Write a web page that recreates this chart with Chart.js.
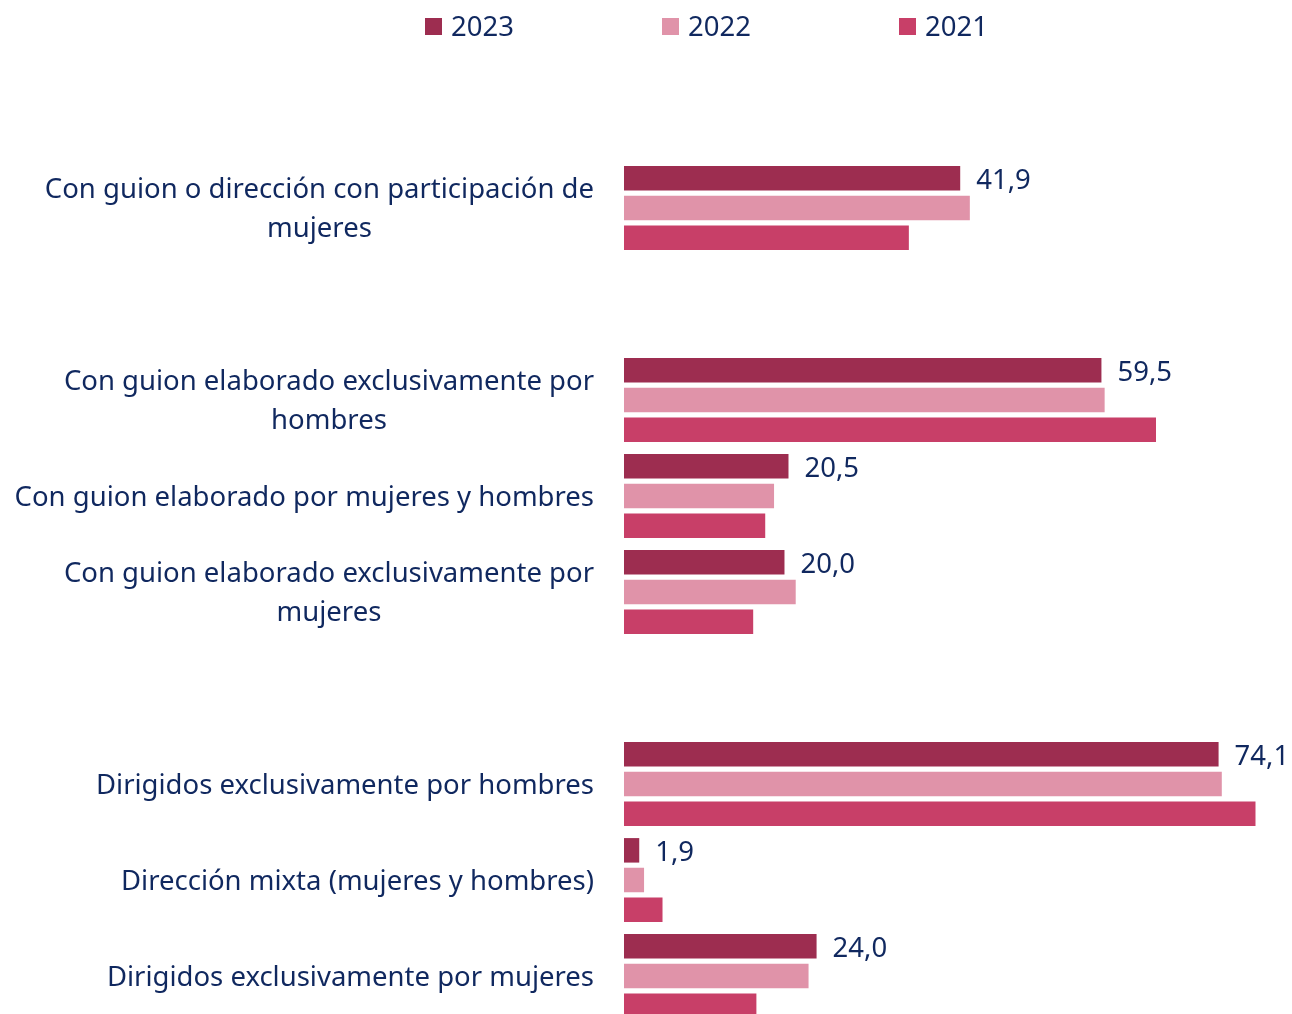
<!DOCTYPE html>
<html><head><meta charset="utf-8">
<script src="https://cdn.jsdelivr.net/npm/chart.js@4.4.1/dist/chart.umd.min.js"></script>
<style>
html,body{margin:0;padding:0;background:#fff;overflow:hidden;}
#wrap{position:relative;width:1292px;height:1014px;overflow:hidden;}
canvas{display:block;}
</style></head><body>
<div id="wrap"><canvas id="c" width="1292" height="1024"></canvas></div>
<script>
const categories = [
  "",
  ["Con guion o dirección con participación de", "mujeres"],
  "",
  ["Con guion elaborado exclusivamente por", "hombres"],
  "Con guion elaborado por mujeres y hombres",
  ["Con guion elaborado exclusivamente por", "mujeres"],
  "",
  "Dirigidos exclusivamente por hombres",
  "Dirección mixta (mujeres y hombres)",
  "Dirigidos exclusivamente por mujeres"
];
const seriesNames = ["2023", "2022", "2021"];
const values2023 = [null, 41.9, null, 59.5, 20.5, 20.0, null, 74.1, 1.9, 24.0];
const values2022 = [null, 43.1, null, 59.9, 18.7, 21.4, null, 74.5, 2.5, 23.0];
const values2021 = [null, 35.5, null, 66.3, 17.6, 16.1, null, 78.7, 4.8, 16.5];
const labelledSeries = [0];

const seriesColors = ["#9D2D50", "#E093A9", "#C83F68"];
const TEXT_COLOR = "#10285F";
const FONT_FAMILY = '"Noto Sans"';
const FONT_SIZE = 27.5;

const yLabelPlugin = {
  id: 'yLabels',
  afterDraw(chart) {
    const ctx = chart.ctx, ys = chart.scales.y;
    ctx.save();
    ctx.font = FONT_SIZE + 'px ' + FONT_FAMILY;
    ctx.fillStyle = TEXT_COLOR;
    ctx.textAlign = 'center';
    ctx.textBaseline = 'middle';
    const right = chart.chartArea.left - 30;
    const lh = 39;
    categories.forEach((lab, i) => {
      const lines = Array.isArray(lab) ? lab : [lab];
      if (!lines.join('')) return;
      const w = Math.max(...lines.map(l => ctx.measureText(l).width));
      const cx = right - w / 2;
      const cy = ys.getPixelForValue(i) + 2;
      lines.forEach((l, k) => ctx.fillText(l, cx, cy + (k - (lines.length - 1) / 2) * lh));
    });
    ctx.restore();
  }
};

const valueLabelPlugin = {
  id: 'valueLabels',
  afterDatasetsDraw(chart) {
    const ctx = chart.ctx;
    ctx.save();
    ctx.font = FONT_SIZE + 'px ' + FONT_FAMILY;
    ctx.fillStyle = TEXT_COLOR;
    ctx.textAlign = 'left';
    ctx.textBaseline = 'middle';
    labelledSeries.forEach(di => {
      const meta = chart.getDatasetMeta(di);
      const data = chart.data.datasets[di].data;
      meta.data.forEach((el, i) => {
        const v = data[i];
        if (v === null || v === undefined) return;
        ctx.fillText(v.toFixed(1).replace('.', ','), el.x + 16, el.y + 3);
      });
    });
    ctx.restore();
  }
};

const legendPlugin = {
  id: 'customLegend',
  afterDraw(chart) {
    const ctx = chart.ctx;
    ctx.save();
    ctx.font = FONT_SIZE + 'px ' + FONT_FAMILY;
    ctx.textAlign = 'left';
    ctx.textBaseline = 'middle';
    chart.data.datasets.forEach((ds, i) => {
      const x = 425 + i * 237;
      ctx.fillStyle = ds.backgroundColor;
      ctx.fillRect(x, 18, 17, 17);
      ctx.fillStyle = TEXT_COLOR;
      ctx.fillText(ds.label, x + 26, 28.5);
    });
    ctx.restore();
  }
};

new Chart(document.getElementById('c'), {
  type: 'bar',
  data: {
    labels: categories,
    datasets: [
      { label: seriesNames[0], data: values2023, backgroundColor: seriesColors[0] },
      { label: seriesNames[1], data: values2022, backgroundColor: seriesColors[1] },
      { label: seriesNames[2], data: values2021, backgroundColor: seriesColors[2] }
    ]
  },
  options: {
    indexAxis: 'y',
    responsive: false,
    animation: false,
    categoryPercentage: 0.927,
    barPercentage: 0.826,
    layout: { padding: { top: 64, right: 2, bottom: 0, left: 0 } },
    plugins: { legend: { display: false }, tooltip: { enabled: false } },
    scales: {
      x: { display: false, min: 0, max: 83 },
      y: {
        display: true,
        grid: { display: false },
        border: { display: false },
        ticks: { display: false },
        afterFit(s) { s.width = 624; }
      }
    }
  },
  plugins: [yLabelPlugin, valueLabelPlugin, legendPlugin]
});
</script>
</body></html>
